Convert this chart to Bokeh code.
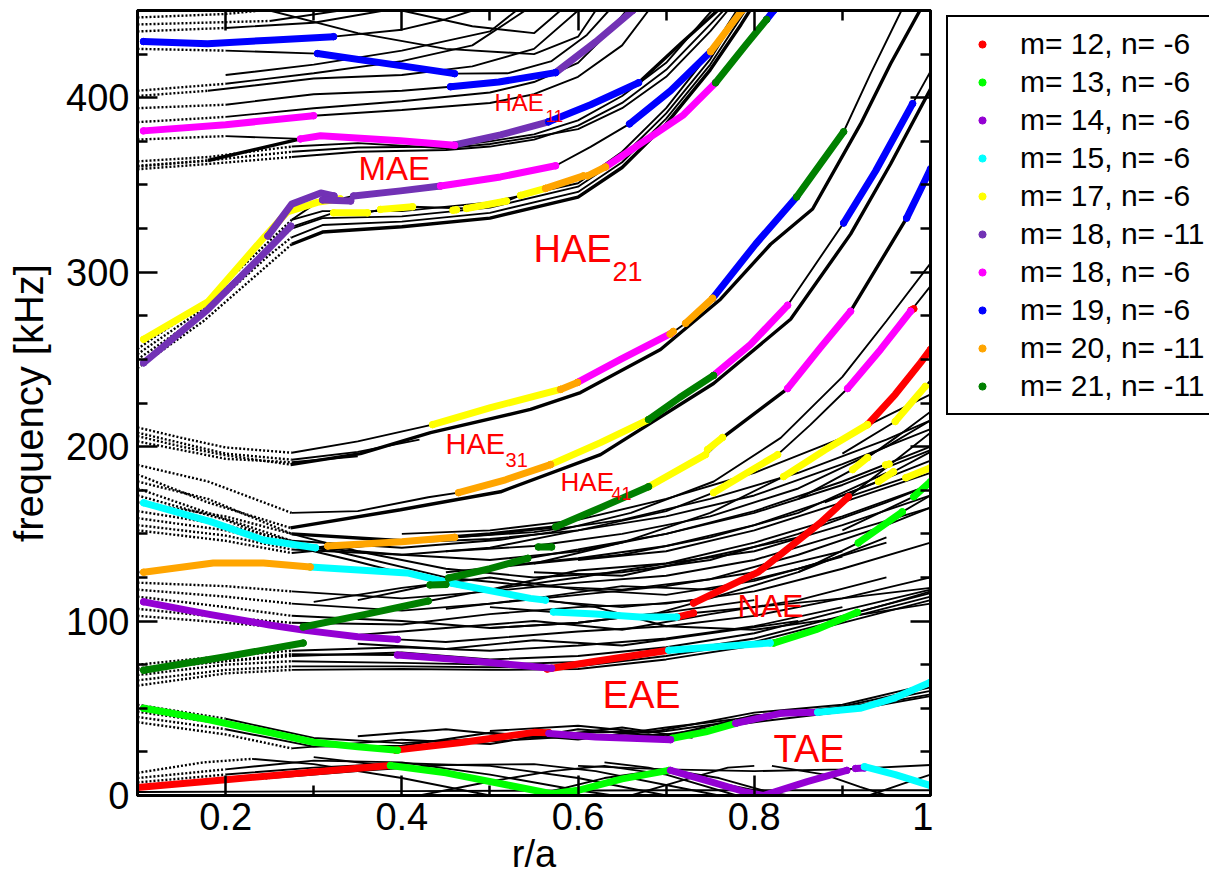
from bokeh.plotting import figure
from bokeh.layouts import row
from bokeh.models import (Legend, LegendItem, LinearAxis, FixedTicker,
                          CustomJSTickFormatter, Range1d, ColumnDataSource)
from bokeh.core.properties import value
from bokeh.embed import file_html
from bokeh.resources import INLINE

FONT = "Liberation Sans"

# ---------------- axes ----------------
X_TICKS = [0.2, 0.4, 0.6, 0.8, 1.0]
X_MINOR = [0.1, 0.3, 0.5, 0.7, 0.9]
Y_TICKS = [0, 100, 200, 300, 400]
Y_MINOR = [25, 50, 75, 125, 150, 175, 225, 250, 275, 325, 350, 375, 425, 450]

# ---------------- black continuum lines (r/a, kHz) ----------------
TAE_LINES = [
    [(0.1, 13), (0.175, 19), (0.23, 21), (0.3, 18), (0.4, 10), (0.5, 0)],
    [(0.1, 10), (0.2, 15), (0.3, 20), (0.4, 19), (0.5, 12), (0.6, 3), (0.64, 0)],
    [(0.1, 7.5), (0.2, 12), (0.3, 16), (0.4, 18.5), (0.5, 17), (0.6, 10), (0.7, 0)],
    [(0.1, 5.5), (0.25, 10), (0.35, 14), (0.45, 17.5), (0.55, 18), (0.62, 14), (0.72, 4), (0.76, 0)],
    [(0.1, 2), (0.4, 2.5), (0.7, 3), (1.0, 3)],
    [(0.42, 0), (0.5, 8), (0.57, 14), (0.63, 17), (0.7, 12), (0.78, 0)],
    [(0.55, 0), (0.63, 10), (0.7, 15), (0.76, 10), (0.83, 0)],
    [(0.6, 17), (0.7, 15), (0.8, 14), (0.9, 15), (1.0, 17.5)],
    [(0.82, 17), (0.88, 12), (0.92, 5), (0.95, 0)],
    [(0.93, 0), (0.97, 7), (1.0, 12)],
    [(0.63, 19), (0.68, 16), (0.74, 9), (0.8, 3), (0.84, 0)],
    [(0.3, 22), (0.4, 16), (0.5, 9), (0.58, 0)],
    [(0.66, 0), (0.72, 9), (0.77, 16), (0.8, 17)],
]

EAE_LINES = [
    [(0.1, 52), (0.2, 44), (0.3, 33), (0.4, 30), (0.5, 33), (0.6, 36), (0.7, 37), (0.8, 44), (0.9, 50), (1.0, 60)],
    [(0.1, 48), (0.2, 41), (0.3, 30), (0.4, 27), (0.5, 31), (0.6, 34), (0.7, 35), (0.8, 42), (0.9, 48), (1.0, 57)],
    [(0.1, 45), (0.2, 38), (0.3, 28), (0.4, 28.5), (0.5, 36), (0.6, 32), (0.7, 39), (0.8, 45), (0.9, 51), (1.0, 62)],
    [(0.1, 42), (0.2, 35), (0.275, 27), (0.4, 32), (0.5, 29.5), (0.6, 38), (0.7, 34), (0.8, 46), (0.9, 49), (1.0, 58)],
    [(0.35, 34), (0.45, 38), (0.55, 33), (0.65, 39), (0.73, 33)],
    [(0.5, 37), (0.6, 40), (0.68, 36), (0.8, 47.5), (0.9, 52), (1.0, 64)],
]

LOW_NAE_LINES = [
    [(0.1, 63), (0.2, 70), (0.275, 72), (0.4, 72.5), (0.5, 72), (0.6, 72.5), (0.7, 78), (0.8, 86), (0.9, 99), (1.0, 112)],
    [(0.1, 66), (0.2, 72), (0.275, 74), (0.4, 74), (0.5, 73.5), (0.6, 74), (0.7, 80), (0.8, 88), (0.9, 101), (1.0, 114)],
    [(0.1, 69), (0.2, 75), (0.275, 77), (0.4, 76), (0.5, 75), (0.6, 76.5), (0.7, 82), (0.8, 90), (0.9, 103), (1.0, 116)],
    [(0.1, 72), (0.2, 77), (0.275, 80), (0.4, 82), (0.5, 78), (0.6, 80), (0.7, 85), (0.8, 93), (0.9, 106), (1.0, 118)],
    [(0.1, 75), (0.2, 80), (0.275, 83), (0.4, 85), (0.5, 83), (0.6, 86), (0.7, 90), (0.8, 97), (0.9, 108)],
    [(0.35, 87), (0.45, 84), (0.55, 89), (0.65, 86), (0.75, 93), (0.85, 100)],
    [(0.1, 103), (0.2, 99), (0.275, 96), (0.35, 92), (0.45, 96), (0.55, 100), (0.65, 95), (0.75, 104), (0.85, 112), (0.95, 125)],
    [(0.1, 107), (0.2, 102), (0.275, 99), (0.4, 98), (0.5, 104), (0.6, 108), (0.7, 110), (0.8, 117), (0.9, 130), (1.0, 145)],
    [(0.1, 114), (0.2, 108), (0.275, 103), (0.4, 100), (0.5, 96), (0.6, 99), (0.7, 105), (0.8, 112)],
    [(0.1, 118), (0.2, 114), (0.275, 110), (0.4, 106), (0.5, 110), (0.6, 115), (0.7, 120), (0.8, 128), (0.9, 140)],
    [(0.1, 122), (0.2, 120), (0.275, 117), (0.4, 113), (0.5, 117), (0.6, 122), (0.7, 126), (0.8, 135), (0.9, 150), (1.0, 165)],
    [(0.3, 111), (0.4, 119), (0.5, 125), (0.6, 118), (0.7, 115), (0.8, 123), (0.9, 137)],
    [(0.45, 107), (0.55, 113), (0.65, 120), (0.75, 118), (0.85, 130), (0.95, 145)],
    [(0.5, 118), (0.6, 129), (0.7, 133), (0.8, 140), (0.9, 155), (1.0, 172)],
    [(0.55, 128), (0.65, 126), (0.75, 137), (0.85, 148)],
    [(0.6, 135), (0.7, 140), (0.8, 152), (0.9, 168), (1.0, 185)],
    [(0.1, 73), (0.2, 77), (0.275, 81), (0.395, 80.5), (0.47, 77.6), (0.57, 73), (0.62, 77), (0.703, 83.3),
     (0.75, 85), (0.818, 87.4), (0.87, 95), (0.917, 105), (0.96, 111), (1.0, 117)],
    [(0.395, 89.5), (0.45, 88), (0.5, 90), (0.6, 94), (0.7, 97), (0.8, 103), (0.9, 113), (1.0, 125)],
]

NAE_LINES = [
    [(0.5, 96), (0.6, 99), (0.69, 104.5), (0.731, 110.3), (0.805, 128.2), (0.875, 156.3), (0.907, 171.3), (0.95, 188), (1.0, 208)],
    [(0.5, 108), (0.572, 105.2), (0.62, 104), (0.67, 102.3), (0.712, 102.3), (0.731, 104.6), (0.8, 108), (0.9, 113), (1.0, 119)],
    [(0.1, 128), (0.186, 133.3), (0.243, 133.3), (0.296, 131), (0.406, 127.6), (0.455, 121.8), (0.546, 113), (0.563, 112),
     (0.62, 108), (0.7, 97), (0.8, 95), (0.9, 102), (1.0, 110)],
    [(0.107, 167.8), (0.183, 157), (0.243, 146.5), (0.302, 142), (0.316, 143), (0.46, 148), (0.55, 151), (0.65, 158),
     (0.75, 170), (0.85, 185), (0.95, 204), (1.0, 215)],
    [(0.288, 96.6), (0.43, 111.5), (0.5, 118), (0.6, 125), (0.7, 133), (0.8, 145), (0.9, 160), (1.0, 178)],
    [(0.35, 112), (0.432, 120.7), (0.453, 124.7), (0.543, 136), (0.6, 141), (0.7, 150), (0.8, 163), (0.9, 180), (1.0, 200)],
    [(0.1, 168), (0.2, 160), (0.275, 150), (0.35, 140), (0.45, 130), (0.55, 125), (0.65, 128), (0.75, 135), (0.85, 150), (0.95, 168), (1.0, 178)],
    [(0.1, 163), (0.2, 155), (0.275, 146), (0.35, 137), (0.45, 125), (0.55, 120), (0.65, 118), (0.75, 124), (0.85, 138), (0.95, 155), (1.0, 165)],
    [(0.1, 159), (0.2, 152), (0.275, 143), (0.35, 134), (0.45, 121), (0.55, 112), (0.65, 108), (0.75, 113), (0.85, 128), (0.95, 148)],
    [(0.1, 155), (0.2, 149), (0.275, 141), (0.4, 138), (0.5, 135), (0.6, 140), (0.7, 150), (0.8, 162), (0.9, 178), (1.0, 198)],
    [(0.1, 152), (0.2, 146), (0.275, 139), (0.4, 145), (0.5, 147), (0.6, 152), (0.7, 160), (0.8, 172), (0.9, 190), (1.0, 210)],
    [(0.4, 150), (0.5, 152), (0.6, 158), (0.7, 170), (0.8, 185), (0.9, 205), (1.0, 230)],
    [(0.45, 140), (0.55, 143), (0.65, 150), (0.75, 160), (0.85, 176), (0.95, 200), (1.0, 215)],
    [(0.5, 131), (0.6, 136), (0.7, 143), (0.8, 155), (0.9, 172), (1.0, 192)],
    [(0.55, 133), (0.65, 138), (0.75, 148), (0.85, 162), (0.95, 185)],
    [(0.85, 128), (0.918, 144.8), (0.968, 162.6), (1.0, 172)],
    [(0.9, 152), (0.981, 171.3), (1.0, 179.9)],
]

HAE_LINES = [
    [(0.1, 211), (0.15, 205), (0.2, 199.5), (0.275, 196.5), (0.35, 203), (0.4349, 212.6), (0.5007, 222.4), (0.5801, 232.8),
     (0.5994, 236.8), (0.6482, 250), (0.7061, 265), (0.722, 270.7), (0.7527, 285), (0.8015, 316.1), (0.848, 343.1),
     (0.9014, 380.5), (0.932, 413.8), (0.967, 450)],
    [(0.1, 189.5), (0.18, 180), (0.275, 162), (0.35, 163), (0.43, 171), (0.4644, 173.6), (0.5177, 181), (0.5688, 189.7),
     (0.6255, 202.3), (0.68, 215.5), (0.7538, 240.8), (0.7958, 258.6), (0.8378, 281), (0.9014, 328.2), (0.9377, 358),
     (0.9797, 396.6), (1.0, 415)],
    [(0.1, 172), (0.2, 158), (0.275, 143), (0.4, 138), (0.5, 142), (0.6, 152), (0.7, 163), (0.7538, 173.6), (0.8265, 195.4),
     (0.8639, 212.6), (0.9059, 233.3), (0.9434, 255.7), (0.9774, 277.6), (1.0, 292)],
    [(0.45, 128), (0.55, 133), (0.65, 145), (0.75, 162), (0.8333, 182.8), (0.88, 198), (0.9286, 212.6), (0.96, 230),
     (0.989, 248.3), (1.0, 255.7)],
    [(0.1, 176), (0.18, 162), (0.275, 146), (0.4, 142), (0.512, 146.6), (0.57, 151), (0.66, 162), (0.754, 180), (0.83, 205),
     (0.9, 240), (0.95, 272), (1.0, 305)],
    [(0.1, 208), (0.2, 196), (0.275, 192.5), (0.35, 197), (0.42, 204)],
    [(0.1, 203), (0.2, 193), (0.275, 191), (0.35, 194.5)],
    [(0.85, 170), (0.9116, 186.8), (0.9286, 193.7), (0.96, 205), (1.0, 220)],
    [(0.88, 168), (0.941, 179.9), (0.958, 185.6), (1.0, 197)],
    [(0.9, 196), (0.96, 214.4), (0.994, 234.5), (1.0, 238)],
    [(0.9, 170), (0.972, 182.2), (1.0, 187.9)],
]

THICK_LINES = [
    [(0.1, 206), (0.15, 200), (0.2, 195), (0.2737, 189.7), (0.3531, 196), (0.4326, 208), (0.546, 221.3), (0.6028, 231),
     (0.6936, 255.7), (0.7617, 284.5), (0.8185, 316), (0.8662, 336.2), (0.9207, 385), (0.9547, 419.5), (0.988, 450)],
    [(0.1, 184), (0.18, 168), (0.2737, 153.4), (0.3985, 163.8), (0.512, 174.1), (0.6255, 195.4), (0.7538, 236.2),
     (0.8412, 273), (0.9093, 321.8), (0.9547, 362), (1.0, 405)],
    [(0.1, 180), (0.18, 170), (0.275, 150), (0.4, 146), (0.5, 150), (0.5745, 154), (0.6255, 165), (0.68, 177),
     (0.7447, 195.4), (0.764, 205.2), (0.8378, 233.3), (0.8753, 256.9), (0.9093, 277.6), (0.9729, 331), (0.9888, 347.4),
     (1.0, 359.2)],
    [(0.1, 245), (0.175, 272), (0.25, 305), (0.275, 316), (0.31, 323), (0.4, 326), (0.5, 331), (0.6, 343), (0.65, 360),
     (0.7, 385), (0.75, 416), (0.785, 442), (0.795, 450)],
    [(0.1, 360.5), (0.18, 364), (0.285, 376.4), (0.3077, 378.2), (0.3985, 375.3), (0.4598, 372.7), (0.512, 378.7),
     (0.5665, 386.2), (0.6142, 396), (0.6687, 408.6), (0.7163, 431), (0.7583, 450)],
]

MAE_LINES = [
    [(0.1, 250), (0.175, 276), (0.25, 310), (0.275, 320), (0.31, 327), (0.4, 329), (0.5, 334), (0.6, 346), (0.65, 363),
     (0.7, 388), (0.75, 419), (0.79, 450)],
    [(0.1, 253), (0.175, 279), (0.25, 314), (0.275, 325), (0.31, 331), (0.4, 332), (0.5, 337), (0.6, 349), (0.65, 366),
     (0.7, 391), (0.75, 422), (0.785, 450)],
    [(0.1, 256), (0.175, 282), (0.25, 318), (0.275, 330), (0.31, 335), (0.4, 335), (0.5, 340), (0.6, 351), (0.65, 369),
     (0.7, 394), (0.75, 426), (0.78, 450)],
    [(0.1, 359), (0.18, 362), (0.275, 366), (0.35, 369), (0.45, 370), (0.5, 372), (0.55, 376), (0.6, 384), (0.65, 397),
     (0.7, 416), (0.75, 442), (0.765, 450)],
    [(0.1, 361), (0.18, 364), (0.275, 369), (0.35, 371.5), (0.45, 372), (0.5, 375), (0.55, 379), (0.6, 387), (0.65, 401),
     (0.7, 420), (0.745, 446), (0.752, 450)],
    [(0.1, 363.5), (0.18, 366), (0.275, 372), (0.35, 374), (0.45, 371), (0.5, 373.5), (0.55, 377.5), (0.6, 382),
     (0.65, 394), (0.7, 412), (0.75, 438), (0.77, 450)],
    [(0.275, 330), (0.304, 340), (0.33, 342), (0.3452, 343.7), (0.3985, 346.6), (0.4439, 349.4), (0.512, 354.6),
     (0.5745, 361), (0.6142, 371.8), (0.6584, 385), (0.705, 404), (0.7504, 426.4), (0.786, 450)],
    [(0.275, 326), (0.3225, 334), (0.361, 334), (0.3758, 336), (0.4121, 337.5), (0.4734, 336.5), (0.5188, 340.8),
     (0.5347, 344), (0.5631, 348), (0.6062, 355.2), (0.6312, 360.3), (0.7197, 390.2), (0.7561, 408.6), (0.814, 444.8),
     (0.822, 450)],
]

UPPER_LINES = [
    [(0.1068, 381), (0.2, 384.5), (0.2998, 389.7), (0.4, 393), (0.5, 397), (0.55, 402), (0.6, 412), (0.65, 430), (0.68, 450)],
    [(0.1, 386), (0.2, 389), (0.3, 394), (0.4, 398), (0.5, 403), (0.55, 409), (0.6, 420), (0.63, 435), (0.655, 450)],
    [(0.1, 394), (0.2, 396), (0.3, 402), (0.4, 404), (0.4553, 406.3), (0.51, 409), (0.5745, 414.4), (0.62, 432), (0.662, 450)],
    [(0.1, 401), (0.18, 404), (0.3, 411), (0.4, 413), (0.48, 418), (0.55, 428), (0.6, 450)],
    [(0.1, 404), (0.2, 408), (0.3, 414), (0.4, 421), (0.48, 430), (0.54, 450)],
    [(0.2, 413), (0.3, 419), (0.4, 427), (0.5, 438), (0.53, 450)],
    [(0.1, 428), (0.2, 427), (0.3043, 425.3), (0.3985, 418.4), (0.4598, 413.8), (0.52, 414), (0.57, 421), (0.61, 436), (0.635, 450)],
    [(0.1068, 432.2), (0.1795, 431), (0.25, 433), (0.3225, 435), (0.4, 439), (0.45, 445), (0.48, 450)],
    [(0.1, 438), (0.2, 440), (0.3, 443), (0.38, 450)],
    [(0.1, 442), (0.25, 444), (0.33, 450)],
    [(0.1, 446), (0.2, 448), (0.24, 450)],
    [(0.25, 450), (0.35, 437), (0.45, 428), (0.55, 425), (0.6, 435), (0.62, 450)],
    [(0.4, 450), (0.48, 441), (0.55, 437), (0.58, 450)],
    [(0.1, 376), (0.2, 378), (0.285, 376.4)],
]

# ---------------- coloured (m, n) branches ----------------
M12_N6 = [
    [(0.1, 4.6), (0.2, 9.0), (0.3, 13.5), (0.387, 17.2)],
    [(0.393, 26.0), (0.47, 30.5), (0.55, 36.2), (0.567, 36.0)],
    [(0.565, 72.5), (0.62, 77.0), (0.703, 83.3)],
    [(0.712, 102.3), (0.731, 104.6)],
    [(0.731, 110.3), (0.805, 128.2), (0.875, 156.3), (0.907, 171.3)],
    [(0.9286, 212.6), (0.96, 230.0), (0.989, 248.3), (1.0, 255.7)],
    [(0.978, 278.2), (0.981, 279.0)],
]
M13_N6 = [
    [(0.107, 50.0), (0.18, 43.5), (0.25, 36.0), (0.3, 30.5), (0.35, 28.0), (0.395, 26.0)],
    [(0.387, 17.2), (0.45, 13.0), (0.52, 6.0), (0.57, 1.0), (0.6, 3.0), (0.65, 9.5), (0.703, 14.4)],
    [(0.707, 32.8), (0.745, 36.5), (0.779, 41.4)],
    [(0.822, 87.4), (0.87, 95.0), (0.917, 105.0)],
    [(0.918, 144.8), (0.968, 162.6)],
    [(0.981, 171.3), (1.0, 179.9)],
]
M14_N6 = [
    [(0.107, 111.0), (0.18, 104.0), (0.25, 97.7), (0.288, 94.8), (0.35, 91.0), (0.395, 89.5)],
    [(0.395, 80.5), (0.47, 77.6), (0.57, 73.0)],
    [(0.567, 35.6), (0.62, 33.5), (0.66, 32.8), (0.705, 32.0)],
    [(0.779, 41.4), (0.83, 47.1), (0.872, 47.7)],
    [(0.705, 14.4), (0.75, 8.0), (0.79, 2.0), (0.81, 0.0), (0.86, 8.0), (0.905, 14.4)],
    [(0.915, 15.5), (0.925, 15.8)],
]
M15_N6 = [
    [(0.107, 167.8), (0.183, 157.0), (0.243, 146.5), (0.302, 142.0)],
    [(0.296, 131.0), (0.406, 127.6), (0.455, 121.8), (0.546, 113.0), (0.563, 112.0)],
    [(0.572, 105.2), (0.62, 104.0), (0.67, 102.3), (0.712, 102.3)],
    [(0.703, 83.3), (0.75, 85.0), (0.818, 87.4)],
    [(0.872, 47.7), (0.92, 50.0), (0.96, 56.0), (1.0, 65.0)],
    [(0.925, 16.5), (0.96, 12.0), (1.0, 5.7)],
]
M17_N6 = [
    [(0.107, 261.5), (0.18, 283.0), (0.245, 320.7), (0.27, 334.5), (0.304, 340.0), (0.33, 342.0)],
    [(0.3225, 334.0), (0.361, 334.0)],
    [(0.3758, 336.0), (0.4121, 337.5)],
    [(0.458, 335.5), (0.462, 335.8)],
    [(0.4734, 336.5), (0.5188, 340.8)],
    [(0.5347, 344.0), (0.5631, 348.0)],
    [(0.4349, 212.6), (0.5007, 222.4), (0.5801, 232.8)],
    [(0.5688, 189.7), (0.6255, 202.3), (0.68, 215.5)],
    [(0.68, 177.0), (0.7447, 195.4)],
    [(0.747, 198.3), (0.764, 205.2)],
    [(0.7538, 173.6), (0.8265, 195.4)],
    [(0.8333, 182.8), (0.88, 198.0), (0.9286, 212.6)],
    [(0.9116, 186.8), (0.9286, 193.7)],
    [(0.941, 179.9), (0.958, 185.6)],
    [(0.96, 214.4), (0.994, 234.5)],
    [(0.972, 182.2), (1.0, 187.9)],
    [(0.949, 189.5), (0.953, 190.0)],
]
M18_N11 = [
    [(0.107, 248.0), (0.18, 278.7), (0.248, 313.0), (0.274, 326.4)],
    [(0.248, 320.7), (0.275, 339.0), (0.308, 345.4), (0.323, 343.7)],
    [(0.31, 341.4), (0.342, 340.8)],
    [(0.3452, 343.7), (0.3985, 346.6), (0.4439, 349.4)],
    [(0.4598, 373.0), (0.512, 378.7), (0.5665, 386.2)],
    [(0.5745, 414.4), (0.62, 432.0), (0.662, 450.0)],
]
M18_N6 = [
    [(0.1068, 381.0), (0.2, 384.5), (0.2998, 389.7)],
    [(0.285, 376.4), (0.3077, 378.2), (0.3985, 375.3), (0.4598, 372.7)],
    [(0.4439, 349.4), (0.512, 354.6), (0.5745, 361.0)],
    [(0.5994, 236.8), (0.6482, 250.0), (0.7061, 265.0)],
    [(0.7538, 240.8), (0.7958, 258.6), (0.8378, 281.0)],
    [(0.8378, 233.3), (0.8753, 256.9), (0.9093, 277.6)],
    [(0.9059, 233.3), (0.9434, 255.7), (0.9774, 277.6)],
    [(0.6312, 360.3), (0.7197, 390.2), (0.7561, 408.6)],
]
M19_N6 = [
    [(0.1068, 432.2), (0.1795, 431.0), (0.25, 433.0), (0.3225, 435.0)],
    [(0.3043, 425.3), (0.3985, 418.4), (0.4598, 413.8)],
    [(0.4553, 406.3), (0.51, 409.0), (0.5745, 414.4)],
    [(0.5665, 386.2), (0.6142, 396.0), (0.6687, 408.6)],
    [(0.6584, 385.0), (0.705, 404.0), (0.7504, 426.4)],
    [(0.814, 444.8), (0.822, 450.0)],
    [(0.7527, 285.0), (0.8015, 316.1), (0.848, 343.1)],
    [(0.9014, 328.2), (0.9377, 358.0), (0.9797, 396.6)],
    [(0.9729, 331.0), (0.9888, 347.4), (1.0, 359.2)],
]
M20_N11 = [
    [(0.107, 128.0), (0.186, 133.3), (0.243, 133.3), (0.296, 131.0)],
    [(0.316, 143.0), (0.4, 145.5), (0.46, 148.0)],
    [(0.4644, 173.6), (0.5177, 181.0), (0.5688, 189.7)],
    [(0.5801, 232.8), (0.5994, 236.8)],
    [(0.7045, 264.5), (0.708, 266.0)],
    [(0.722, 270.7), (0.7527, 285.0)],
    [(0.5631, 348.0), (0.6062, 355.2)],
    [(0.6108, 355.2), (0.6312, 360.3)],
    [(0.7504, 426.4), (0.786, 450.0)],
]
M21_N11 = [
    [(0.107, 71.8), (0.2, 79.5), (0.288, 87.4)],
    [(0.288, 96.6), (0.36, 104.0), (0.43, 111.5)],
    [(0.432, 120.7), (0.45, 121.0)],
    [(0.453, 124.7), (0.5, 130.0), (0.543, 136.0)],
    [(0.555, 142.5), (0.57, 142.5)],
    [(0.5745, 154.0), (0.6255, 165.0), (0.68, 177.0)],
    [(0.68, 215.5), (0.715, 228.0), (0.7538, 240.8)],
    [(0.848, 343.1), (0.875, 362.0), (0.9014, 380.5)],
    [(0.7561, 408.6), (0.79, 430.0), (0.814, 444.8)],
]

MODE_LABELS = ["m= 12, n= -6", "m= 13, n= -6", "m= 14, n= -6", "m= 15, n= -6", "m= 17, n= -6",
               "m= 18, n= -11", "m= 18, n= -6", "m= 19, n= -6", "m= 20, n= -11", "m= 21, n= -11"]
MODE_SEGMENTS = [M12_N6, M13_N6, M14_N6, M15_N6, M17_N6, M18_N11, M18_N6, M19_N6, M20_N11, M21_N11]
MODE_COLORS = ["#ff0000", "#00ff00", "#9400d3", "#00ffff", "#ffff00",
               "#7232b5", "#ff00ff", "#0000ff", "#ffa500", "#008000"]

# ---------------- gap labels ----------------
LABEL_TEXT = ["MAE", "HAE", "21", "HAE", "11", "HAE", "31", "HAE", "41", "NAE", "EAE", "TAE"]
LABEL_R = [0.3508, 0.5495, 0.6392, 0.5052, 0.5631, 0.4496, 0.5177, 0.5801, 0.638, 0.781, 0.6278, 0.8219]
LABEL_F = [359.2, 313.1, 300.4, 397.5, 389.7, 201.4, 192.6, 179.5, 173.2, 108.9, 58.1, 26.9]
LABEL_SIZE = ["33px", "38px", "27px", "24px", "17px", "29px", "20px", "26px", "18px", "32px", "39px", "38px"]

# ---------------- main figure ----------------
p = figure(width=933, height=885, x_range=Range1d(0.1, 1.0), y_range=Range1d(0, 450),
           output_backend="svg", toolbar_location=None,
           min_border_left=137, min_border_right=3, min_border_top=10, min_border_bottom=90)
p.xgrid.visible = False
p.ygrid.visible = False
p.outline_line_color = "black"
p.outline_line_width = 3
p.background_fill_color = "white"
p.border_fill_color = "white"

xticker = FixedTicker(ticks=X_TICKS, minor_ticks=X_MINOR)
yticker = FixedTicker(ticks=Y_TICKS, minor_ticks=Y_MINOR)


def style_axis(ax, labelled):
    ax.major_tick_in = 20
    ax.major_tick_out = 0
    ax.minor_tick_in = 10
    ax.minor_tick_out = 0
    ax.major_tick_line_width = 2.5
    ax.minor_tick_line_width = 2.5
    ax.major_tick_line_color = "black"
    ax.minor_tick_line_color = "black"
    ax.axis_line_width = 3
    ax.axis_line_color = "black"
    if labelled:
        ax.major_label_text_font = FONT
        ax.major_label_text_font_size = "38px"
        ax.major_label_text_color = "black"
        ax.axis_label_text_font = FONT
        ax.axis_label_text_font_style = "normal"
        ax.axis_label_text_color = "black"
    else:
        ax.major_label_text_font_size = "0px"
        ax.major_label_standoff = 0


xa = p.xaxis[0]
xa.ticker = xticker
xa.formatter = CustomJSTickFormatter(code="return (Math.round(tick*10)/10).toString();")
style_axis(xa, True)
xa.axis_label = "r/a"
xa.axis_label_text_font_size = "38px"
xa.major_label_standoff = 7
xa.axis_label_standoff = 0

ya = p.yaxis[0]
ya.ticker = yticker
style_axis(ya, True)
ya.axis_label = "frequency [kHz]"
ya.axis_label_text_font_size = "40px"
ya.major_label_standoff = 8
ya.axis_label_standoff = 12

top = LinearAxis(ticker=xticker, formatter=CustomJSTickFormatter(code="return '';"))
style_axis(top, False)
p.add_layout(top, "above")
right = LinearAxis(ticker=yticker, formatter=CustomJSTickFormatter(code="return '';"))
style_axis(right, False)
p.add_layout(right, "right")


def collect(curves, solid, dotted):
    for c in curves:
        rs = [pt[0] for pt in c]
        fs = [pt[1] for pt in c]
        if rs[0] < 0.15:
            left = [i for i, r in enumerate(rs) if r <= 0.28]
            k = left[-1]
            if k >= 1:
                dotted[0].append(rs[:k + 1])
                dotted[1].append(fs[:k + 1])
                if k < len(rs) - 1:
                    solid[0].append(rs[k:])
                    solid[1].append(fs[k:])
                continue
        solid[0].append(rs)
        solid[1].append(fs)


thin_solid = ([], [])
thin_dot = ([], [])
collect(TAE_LINES + EAE_LINES + LOW_NAE_LINES + NAE_LINES + HAE_LINES + MAE_LINES + UPPER_LINES,
        thin_solid, thin_dot)
thick_solid = ([], [])
thick_dot = ([], [])
collect(THICK_LINES, thick_solid, thick_dot)

p.multi_line(xs=thin_dot[0] + thick_dot[0], ys=thin_dot[1] + thick_dot[1],
             line_color="black", line_width=2.4, line_dash="2 2")
p.multi_line(xs=thin_solid[0], ys=thin_solid[1], line_color="black", line_width=1.9)
p.multi_line(xs=thick_solid[0], ys=thick_solid[1], line_color="black", line_width=3.4)

endpoints = []
for segs, color in zip(MODE_SEGMENTS, MODE_COLORS):
    xs = [[pt[0] for pt in s] for s in segs]
    ys = [[pt[1] for pt in s] for s in segs]
    p.multi_line(xs=xs, ys=ys, line_color=color, line_width=7, line_cap="round", line_join="round")
    ex = [x for s in xs for x in (s[0], s[-1])]
    ey = [y for s in ys for y in (s[0], s[-1])]
    p.scatter(x=ex, y=ey, size=6.5, marker="circle", fill_color=color, line_color=color)
    endpoints.append((ex, ey))

src = ColumnDataSource(dict(x=LABEL_R, y=LABEL_F, text=LABEL_TEXT, size=LABEL_SIZE))
p.text(x="x", y="y", text="text", source=src, text_font=value(FONT), text_font_size="size",
       text_color="#ff0000", text_baseline="alphabetic", text_align="left")

# ---------------- legend panel (separate figure to the right) ----------------
lp = figure(width=276, height=885, x_range=Range1d(0, 1), y_range=Range1d(0, 1),
            output_backend="svg", toolbar_location=None,
            x_axis_location=None, y_axis_location=None, min_border=0)
lp.outline_line_color = None
lp.grid.visible = False
lp.background_fill_color = "white"
lp.border_fill_color = "white"

legend_items = []
for label, color, (ex, ey) in zip(MODE_LABELS, MODE_COLORS, endpoints):
    # same (m, n) points, kept hidden here: only their legend swatch is shown
    r = lp.scatter(x=ex, y=ey, size=7, marker="circle", fill_color=color, line_color=color,
                   visible=False)
    legend_items.append(LegendItem(label=label, renderers=[r]))

legend = Legend(items=legend_items, location=(13, 380))
legend.label_text_font = FONT
legend.label_text_font_size = "30px"
legend.label_text_color = "black"
legend.glyph_width = 52
legend.glyph_height = 18
legend.label_height = 38
legend.label_standoff = 12
legend.spacing = 0
legend.padding = 8
legend.margin = 0
legend.border_line_color = "black"
legend.border_line_width = 2.5
legend.border_line_alpha = 1.0
legend.background_fill_color = "white"
legend.background_fill_alpha = 1.0
legend.inactive_fill_alpha = 0.0
legend.click_policy = "none"
lp.add_layout(legend)

layout = row(p, lp)
open("out.html", "w").write(file_html(layout, INLINE))
